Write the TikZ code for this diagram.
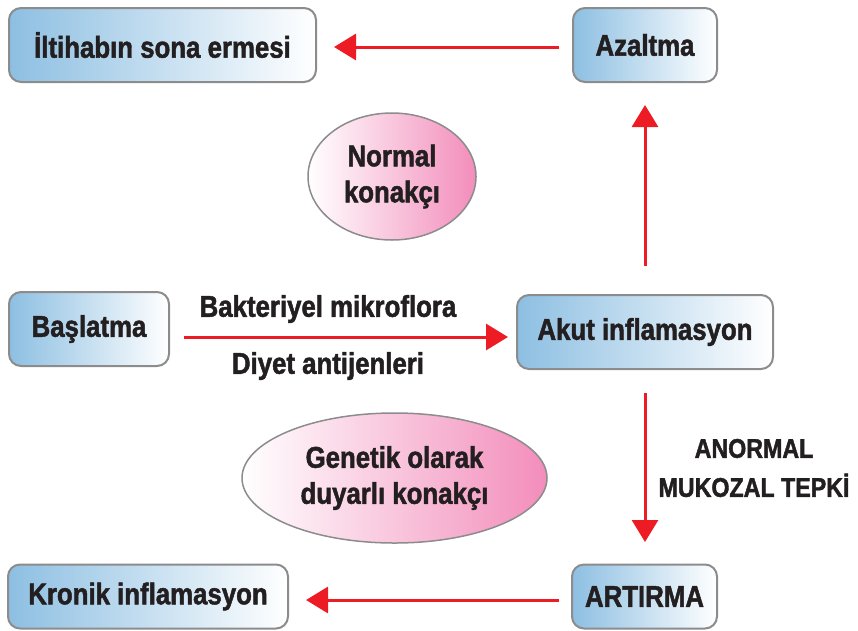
\documentclass[tikz,border=0pt]{standalone}
\usepackage{fontspec}
\setmainfont{Liberation Sans}[FakeStretch=0.86, BoldFeatures={FakeBold=1.6}]
\usetikzlibrary{arrows.meta,shapes.geometric}
\definecolor{boxblue}{HTML}{8DBFE2}
\definecolor{boxgray}{HTML}{8C8C8C}
\definecolor{ellpink}{HTML}{F38DBB}
\definecolor{arrred}{HTML}{ED1C24}
\definecolor{txt}{HTML}{231F20}
\tikzset{
  box/.style={rectangle, rounded corners=12pt, draw=boxgray, line width=2pt,
    left color=boxblue, right color=white, minimum height=74pt, inner sep=0pt,
    text=txt, font=\fontsize{30}{32}\selectfont\bfseries},
  oval/.style={ellipse, draw=boxgray, line width=1.5pt, left color=white, right color=ellpink,
    inner sep=0pt, align=center, text=txt, font=\fontsize{30}{36}\selectfont\bfseries},
  lbl/.style={align=center, text=txt, font=\fontsize{30}{38}\selectfont\bfseries},
  arr/.style={draw=arrred, line width=3pt, -{Triangle[length=22pt,width=26pt]}, color=arrred}
}
\begin{document}
\begin{tikzpicture}[x=1pt,y=-1pt]
\useasboundingbox (0,0) rectangle (858,630);
\node[box, minimum width=307pt] (ilt) at (162.5,45) {İltihabın sona ermesi};
\node[box, minimum width=144pt] (aza) at (645,45) {Azaltma};
\node[box, minimum width=160pt] (bas) at (89,329) {Başlatma};
\node[box, minimum width=256pt] (akut) at (645,332) {Akut inflamasyon};
\node[box, minimum width=280pt, minimum height=64pt] (kron) at (148,596.5) {Kronik inflamasyon};
\node[box, minimum width=145pt, minimum height=64pt] (art) at (644.5,596.5) {ARTIRMA};
\node[oval, minimum width=168pt, minimum height=127pt] (norm) at (392,176.5) {Normal\\konakçı};
\node[oval, minimum width=305pt, minimum height=130pt] (gen) at (394.5,478) {Genetik olarak\\duyarlı konakçı};
\node[lbl] (bak) at (328,309) {Bakteriyel mikroflora};
\node[lbl] (diy) at (328,366) {Diyet antijenleri};
\node[lbl, font=\fontsize{27}{39}\selectfont\bfseries] (ano) at (754,468) {ANORMAL\\MUKOZAL TEPKİ};
\draw[arr, shorten <=13pt, shorten >=17pt] ([yshift=-2pt]aza.west) -- ([yshift=-2pt]ilt.east);
\draw[arr, shorten <=28pt, shorten >=22pt] (akut.north) -- (aza.north |- aza.south);
\draw[arr, shorten <=14pt, shorten >=8pt] ([yshift=-8pt]bas.east) -- ([yshift=-5pt]akut.west);
\draw[arr, shorten <=23pt, shorten >=21.5pt] (akut.south) -- (akut.south |- art.north);
\draw[arr, shorten <=12pt, shorten >=17pt] ([yshift=-3.5pt]art.west) -- ([yshift=-3.5pt]kron.east);
\end{tikzpicture}
\end{document}
